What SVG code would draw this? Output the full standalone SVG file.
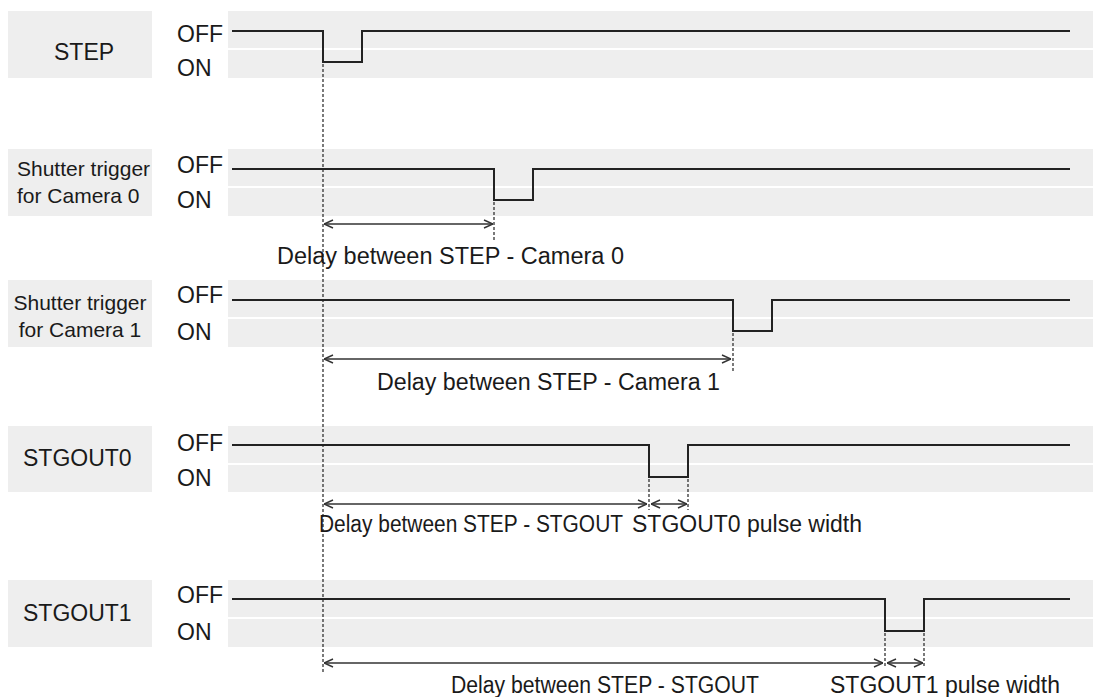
<svg xmlns="http://www.w3.org/2000/svg" width="1093" height="697" viewBox="0 0 1093 697">
<defs>
<style>
.bg{fill:#ffffff}
.band{fill:#eeeeee}
.sig{fill:none;stroke:#222;stroke-width:2}
.t{font-family:"Liberation Sans",Arial,sans-serif;font-size:23px;fill:#1a1a1a}
.ts{font-family:"Liberation Sans",Arial,sans-serif;font-size:21px;fill:#1a1a1a}
.dash{fill:none;stroke:#222;stroke-width:1.2;stroke-dasharray:3 2}
.arr{fill:none;stroke:#333;stroke-width:1.5;marker-start:url(#ah);marker-end:url(#ah)}
</style>
<marker id="ah" viewBox="0 0 10 10" refX="10" refY="5" markerWidth="10" markerHeight="10" markerUnits="userSpaceOnUse" orient="auto-start-reverse">
<path d="M1,1 L10,5 L1,9" fill="none" stroke="#333" stroke-width="1.5"/>
</marker>
</defs>
<rect class="bg" x="0" y="0" width="1093" height="697"/>

<g id="row-step">
<rect class="band" x="8" y="11" width="144" height="67"/>
<rect class="band" x="228" y="11" width="865" height="37"/>
<rect class="band" x="228" y="50" width="865" height="28"/>
<text class="t" x="54" y="60">STEP</text>
<text class="t" x="177" y="42">OFF</text>
<text class="t" x="177" y="76">ON</text>
<path class="sig" d="M232,31 H323 V62 H362 V31 H1070"/>
</g>

<g id="row-camera0">
<rect class="band" x="8" y="149" width="144" height="67"/>
<rect class="band" x="228" y="149" width="865" height="37"/>
<rect class="band" x="228" y="188" width="865" height="28"/>
<text class="ts" x="17" y="176">Shutter trigger</text>
<text class="ts" x="17" y="203">for Camera 0</text>
<text class="t" x="177" y="173">OFF</text>
<text class="t" x="177" y="208">ON</text>
<path class="sig" d="M232,169 H494 V200 H533 V169 H1070"/>
</g>

<g id="row-camera1">
<rect class="band" x="8" y="280" width="144" height="67"/>
<rect class="band" x="228" y="280" width="865" height="37"/>
<rect class="band" x="228" y="319" width="865" height="28"/>
<text class="ts" x="80" y="310" text-anchor="middle">Shutter trigger</text>
<text class="ts" x="80" y="337" text-anchor="middle">for Camera 1</text>
<text class="t" x="177" y="303">OFF</text>
<text class="t" x="177" y="340">ON</text>
<path class="sig" d="M232,300 H733 V331 H772 V300 H1070"/>
</g>

<g id="row-stgout0">
<rect class="band" x="8" y="426" width="144" height="66"/>
<rect class="band" x="228" y="426" width="865" height="37"/>
<rect class="band" x="228" y="465" width="865" height="27"/>
<text class="t" x="23" y="466">STGOUT0</text>
<text class="t" x="177" y="451">OFF</text>
<text class="t" x="177" y="486">ON</text>
<path class="sig" d="M232,445 H649 V477 H688 V445 H1070"/>
</g>

<g id="row-stgout1">
<rect class="band" x="8" y="580" width="144" height="67"/>
<rect class="band" x="228" y="580" width="865" height="37"/>
<rect class="band" x="228" y="619" width="865" height="28"/>
<text class="t" x="23" y="621">STGOUT1</text>
<text class="t" x="177" y="603">OFF</text>
<text class="t" x="177" y="640">ON</text>
<path class="sig" d="M232,599 H885 V631 H924 V599 H1070"/>
</g>

<g id="connectors">
<line class="dash" x1="323" y1="64" x2="323" y2="672"/>
<line class="dash" x1="494" y1="202" x2="494" y2="240"/>
<line class="dash" x1="733" y1="333" x2="733" y2="373"/>
<line class="dash" x1="649" y1="479" x2="649" y2="510"/>
<line class="dash" x1="688" y1="479" x2="688" y2="510"/>
<line class="dash" x1="885" y1="633" x2="885" y2="668"/>
<line class="dash" x1="924" y1="633" x2="924" y2="668"/>
<line class="arr" x1="324" y1="224" x2="493" y2="224"/>
<line class="arr" x1="324" y1="359" x2="731" y2="359"/>
<line class="arr" x1="324" y1="504" x2="647" y2="504"/>
<line class="arr" x1="651" y1="504" x2="687" y2="504"/>
<line class="arr" x1="324" y1="663" x2="883" y2="663"/>
<line class="arr" x1="887" y1="663" x2="923" y2="663"/>
</g>

<g id="labels">
<text class="t" x="277" y="264" textLength="347" lengthAdjust="spacingAndGlyphs">Delay between STEP - Camera 0</text>
<text class="t" x="377" y="390" textLength="343" lengthAdjust="spacingAndGlyphs">Delay between STEP - Camera 1</text>
<text class="t" x="319" y="532" textLength="304" lengthAdjust="spacingAndGlyphs">Delay between STEP - STGOUT</text>
<text class="t" x="632" y="532" textLength="230" lengthAdjust="spacingAndGlyphs">STGOUT0 pulse width</text>
<text class="t" x="451" y="693" textLength="308" lengthAdjust="spacingAndGlyphs">Delay between STEP - STGOUT</text>
<text class="t" x="830" y="693" textLength="230" lengthAdjust="spacingAndGlyphs">STGOUT1 pulse width</text>
</g>
</svg>
